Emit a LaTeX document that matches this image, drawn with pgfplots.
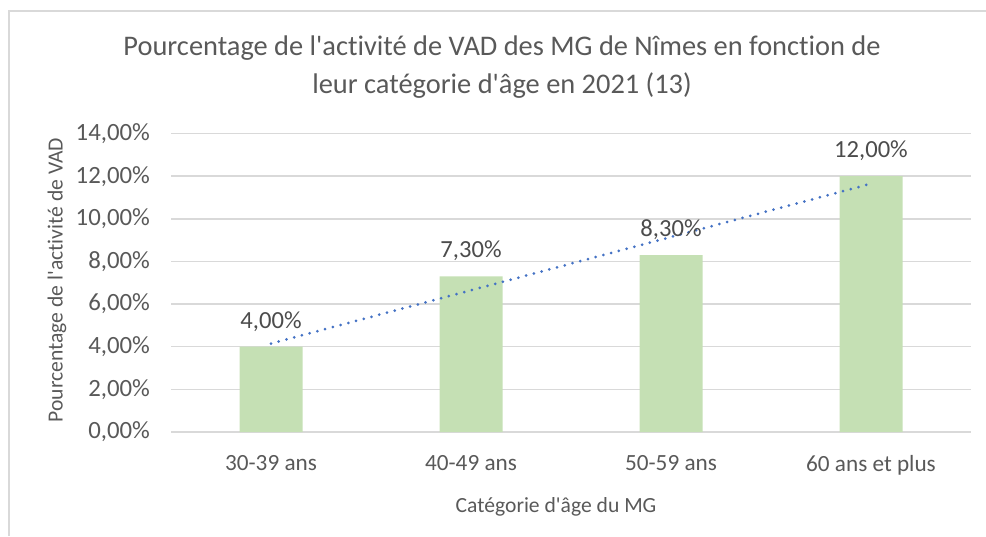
\documentclass[border=0pt]{standalone}
\usepackage{fontspec}
\setmainfont{Carlito}[Ligatures={NoCommon}]
\usepackage{pgfplots}
\pgfplotsset{compat=1.18}

\definecolor{barfill}{HTML}{C5E0B4}
\definecolor{trend}{HTML}{4472C4}
\definecolor{gridgray}{HTML}{D9D9D9}
\definecolor{txt}{HTML}{595959}

\newcommand{\ap}{\textquotesingle}

\begin{document}
\begin{tikzpicture}
  \useasboundingbox (0,0) rectangle (493pt,-268pt);
  % chart frame (only left and top edges visible)
  \draw[gridgray, line width=0.8pt] (4.5pt,-268pt) -- (4.5pt,-5.5pt) -- (493pt,-5.5pt);

  \begin{axis}[
      at={(85.5pt,-216pt)}, anchor=south west,
      scale only axis,
      width=400pt, height=149.2pt,
      xmin=-0.5, xmax=3.5,
      ymin=0, ymax=14,
      ytick={0,2,...,14},
      xtick={0,1,2,3},
      xticklabels={30-39 ans,40-49 ans,50-59 ans,60 ans et plus},
      ymajorgrids,
      grid style={gridgray, line width=0.75pt},
      axis line style={draw=none},
      major tick length=0pt,
      /pgf/number format/assume math mode=true,
      yticklabel={\pgfmathprintnumber[fixed,fixed zerofill,precision=2,use comma]{\tick}\%},
      tick label style={text=txt},
      yticklabel style={font=\fontsize{12.4}{14}\selectfont, xshift=-7pt},
      xticklabel style={font=\fontsize{11.6}{13}\selectfont, yshift=-8pt},
      clip=false,
    ]
    \addplot[ybar, bar width=0.315, fill=barfill, draw=none,
      nodes near coords={\pgfmathprintnumber[fixed,fixed zerofill,precision=2,use comma,assume math mode=true]{\pgfplotspointmeta}\%},
      nodes near coords style={font=\fontsize{12.3}{14}\selectfont, text=txt!85!black, anchor=center, yshift=12.7pt}]
      coordinates {(0,4.00) (1,7.30) (2,8.30) (3,12.00)};
    % linear trend line
    \addplot[trend, line width=1.5pt, line cap=round, dash pattern=on 0pt off 4pt]
      coordinates {(0,4.15) (3,11.65)};
  \end{axis}

  \node[text=txt, font=\fontsize{14.2}{17}\selectfont] at (251pt,-24pt)
    {Pourcentage de l\ap{}activité de VAD des MG de Nîmes en fonction de};
  \node[text=txt, font=\fontsize{14.2}{17}\selectfont] at (251pt,-43pt)
    {leur catégorie d\ap{}âge en 2021 (13)};
  \node[text=txt, font=\fontsize{10.8}{13}\selectfont] at (278pt,-253.5pt)
    {Catégorie d\ap{}âge du MG};
  \node[text=txt, font=\fontsize{10.8}{13}\selectfont, rotate=90] at (28.5pt,-140pt)
    {Pourcentage de l\ap{}activité de VAD};
\end{tikzpicture}
\end{document}
